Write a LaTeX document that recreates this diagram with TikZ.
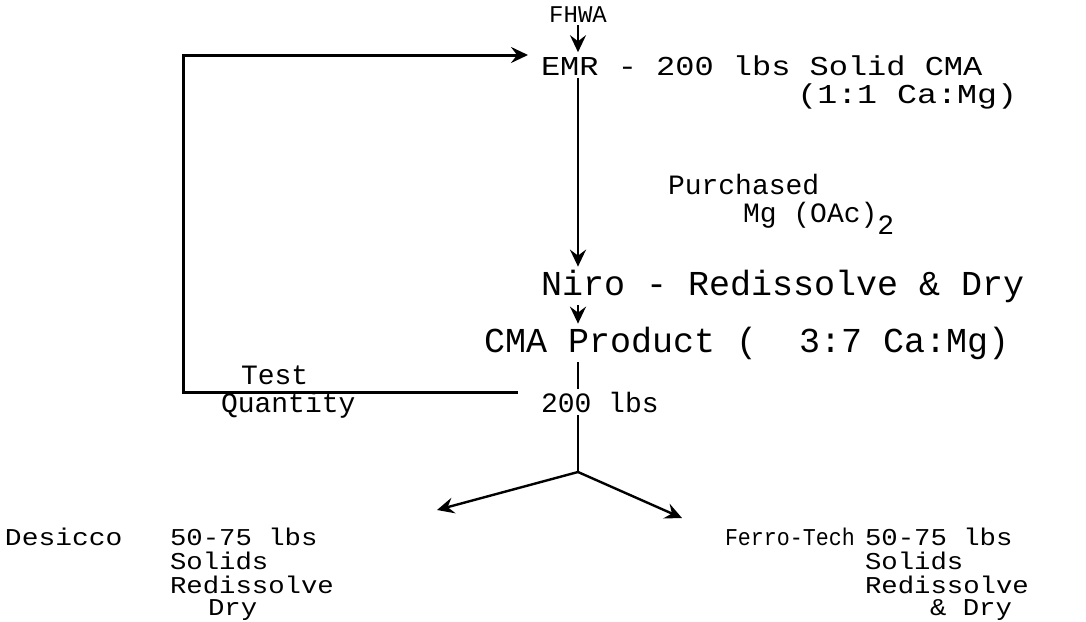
\documentclass[tikz,border=0pt]{standalone}
\usepackage{fontspec}
\setmainfont{Liberation Mono}
\usetikzlibrary{arrows.meta, positioning, calc}

\begin{document}
\begin{tikzpicture}[
      x=1pt, y=-1pt,
      lbl/.style={inner sep=0pt, outer sep=3pt, anchor=base west,
                  font=\fontsize{32}{36}\selectfont},
      cond/.style={lbl, font=\fontsize{26}{28}\selectfont},
      wide/.style={lbl, font=\fontsize{35}{40}\selectfont},
      small/.style={lbl, font=\fontsize{28}{30}\selectfont},
      tiny/.style={lbl, outer sep=0pt, font=\fontsize{21}{24}\selectfont},
      arr/.style={-{Stealth[length=17pt, width=16pt, inset=6pt]}, line width=2.4pt},
      link/.style={line width=2.4pt}
    ]
    \useasboundingbox (0,0) rectangle (1086,621);
    % main column
    \node[small, anchor=base, font=\fontsize{24}{26}\selectfont] (fhwa) at (578,22) {FHWA};
    \node[cond] (emr) at (538,75) {\scalebox{1.23}[1.05]{EMR - 200 lbs Solid CMA}};
    \node[cond, anchor=base east] (ratio) at (1020,103) {\scalebox{1.28}[1.05]{(1:1 Ca:Mg)}};
    \node[small] (purch) at (665,194) {Purchased};
    \node[small] (mgoac) at (740,222) {Mg (OAc)\raisebox{-12pt}{2}};
    \node[wide] (niro) at (538,295) {Niro - Redissolve \& Dry};
    \node[wide] (prod) at (481,352) {CMA Product (~~3:7 Ca:Mg)};
    \node[small] (lbs) at (538,412) {200 lbs};
    \node[small] (test) at (238,384) {Test};
    \node[small] (qty) at (218,412) {Quantity};
    % the two takers
    \node[tiny] (des) at (5,545) {\scalebox{1.33}[1.15]{Desicco}};
    \node[tiny] (desa) at (170,545) {\scalebox{1.3}[1.15]{50-75 lbs}};
    \node[tiny] (desb) at (170,569) {\scalebox{1.3}[1.15]{Solids}};
    \node[tiny] (desc) at (170,593) {\scalebox{1.3}[1.15]{Redissolve}};
    \node[tiny] (desd) at (208,615) {\scalebox{1.3}[1.15]{Dry}};
    \node[tiny] (fer) at (725,545) {\scalebox{1.03}[1.15]{Ferro-Tech}};
    \node[tiny] (fera) at (865,545) {\scalebox{1.3}[1.15]{50-75 lbs}};
    \node[tiny] (ferb) at (865,569) {\scalebox{1.3}[1.15]{Solids}};
    \node[tiny] (ferc) at (865,593) {\scalebox{1.3}[1.15]{Redissolve}};
    \node[tiny] (ferd) at (930,615) {\scalebox{1.3}[1.15]{\& Dry}};
    % loop and split points
    \coordinate (loopend) at (518,392);
    \coordinate (loopbl) at (183,392);
    \coordinate (looptl) at (183,55);
    \coordinate (split) at (578,472);
    \coordinate (todes) at (437,510);
    \coordinate (tofer) at (682,518);
    \draw[arr] (fhwa) -- (fhwa |- emr.north);
    \draw[arr] (fhwa |- emr.south) -- (fhwa |- niro.north);
    \draw[arr] (fhwa |- niro.south) -- (fhwa |- prod.north);
    \draw[link] (fhwa |- prod.south) -- (fhwa |- lbs.north);
    \draw[link] (fhwa |- lbs.south) -- (split);
    \draw[arr] (split) -- (todes);
    \draw[arr] (split) -- (tofer);
    \draw[arr, line width=3pt, shorten >=10pt] (loopend) -- (loopbl) -- (looptl) -- (looptl -| emr.west);
  \end{tikzpicture}
\end{document}
